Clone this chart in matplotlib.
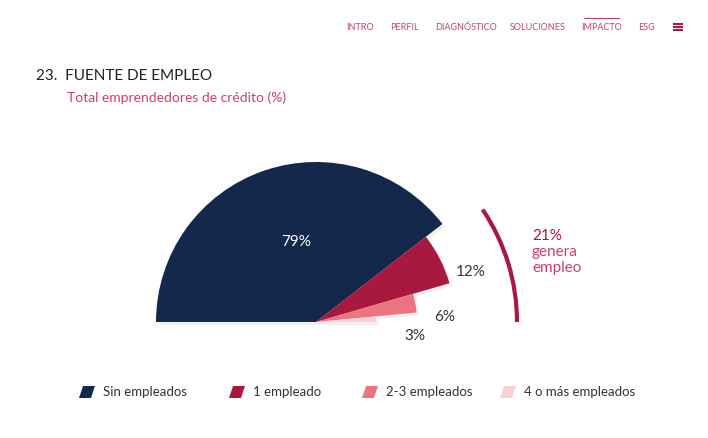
import matplotlib.pyplot as plt
from matplotlib.patches import Wedge, Arc, Polygon

plt.rcParams['font.family'] = ['Lato', 'DejaVu Sans']

categories = ['Sin empleados', '1 empleado', '2-3 empleados', '4 o más empleados']
values = [79, 12, 6, 3]
radii = [160, 139, 101, 60]
colors = ['#13284a', '#a8193f', '#ec7480', '#f6d0d3']
nav_items = ['INTRO', 'PERFIL', 'DIAGNÓSTICO', 'SOLUCIONES', 'IMPACTO', 'ESG']
genera = 21

fig = plt.figure(figsize=(7.08, 4.38), dpi=100)
ax = fig.add_axes([0, 0, 1, 1])
ax.set_xlim(0, 708)
ax.set_ylim(438, 0)
ax.set_aspect('equal')
ax.set_axis_off()

pink = '#c8416b'
# nav bar
nav_x = [360, 404, 466, 538, 601, 646]
for name, x in zip(nav_items, nav_x):
    ax.text(x, 27, name, color=pink, fontsize=6.5, ha='center', va='center')
ax.plot([584, 619], [18, 18], color=pink, lw=0.8)
for dy in (-3, 0, 3):
    ax.plot([674, 682], [27 + dy, 27 + dy], color='#a8193f', lw=1.5)

ax.text(36, 76, '23.  FUENTE DE EMPLEO', fontsize=11, color='#222222', va='center')
ax.text(67, 98, 'Total emprendedores de crédito (%)', fontsize=10, color=pink, va='center')

cx, cy = 316, 322
start = 180.0
for v, r, c in zip(values, radii, colors):
    span = v / 100 * 180
    t1, t2 = 360 - start, 360 - start + span
    ax.add_patch(Wedge((cx + 3, cy + 3), r, t1, t2, color='#000000', alpha=0.06, lw=0))
    ax.add_patch(Wedge((cx, cy), r, t1, t2, color=c, lw=0))
    start -= span

# labels
ax.text(296, 242, '79%', color='white', fontsize=11, ha='center', va='center')
ax.text(471, 272, '12%', color='#333333', fontsize=11, ha='center', va='center')
ax.text(445, 317, '6%', color='#333333', fontsize=11, ha='center', va='center')
ax.text(415, 336, '3%', color='#333333', fontsize=11, ha='center', va='center')

arc_span = genera / 100 * 180 * 0.9
ax.add_patch(Arc((cx, cy), 402, 402, theta1=360 - arc_span, theta2=360, color='#a8193f', lw=3))
ax.text(532, 236, f'{genera}%', color='#a8193f', fontsize=11, va='center')
ax.text(532, 252, 'genera', color=pink, fontsize=11, va='center')
ax.text(532, 268, 'empleo', color=pink, fontsize=11, va='center')

# legend
leg_x = [79, 229, 362, 500]
for name, c, x in zip(categories, colors, leg_x):
    ax.add_patch(Polygon([(x, 398), (x + 12, 398), (x + 16, 386), (x + 4, 386)], color=c, lw=0))
    ax.text(x + 24, 392, name, fontsize=9.5, color='#333333', va='center')

fig.savefig('out.png', dpi=100)
